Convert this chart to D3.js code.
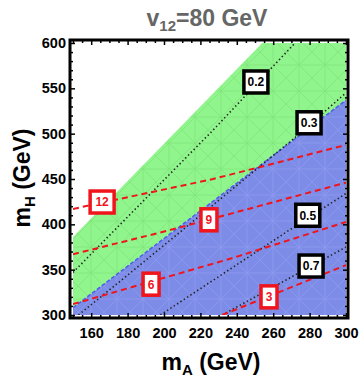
<!DOCTYPE html>
<html>
<head>
<meta charset="utf-8">
<script src="https://cdn.jsdelivr.net/npm/d3@7"></script>
<style>
  body { margin: 0; background: #fff; }
  svg { display: block; font-family: "Liberation Sans", Arial, sans-serif; }
</style>
</head>
<body>
<svg width="360" height="383"></svg>
<script>
// regions (mA, mH)
const greenRegion = [[150, 386], [254, 600], [300, 600], [300, 537], [150, 308]];
const blueRegion = [[150, 308], [300, 537], [300, 300], [150, 300]];
const boundary = [[150, 308], [300, 537]];

// dotted contours
const dotLabels = ["0.2", "0.3", "0.5", "0.7"];
const dotLines = [
    [[150, 347], [227, 504], [272, 600]],
    [[153, 300], [177, 339], [271, 494], [300, 545]],
    [[198, 300], [279, 407], [300, 434]],
    [[232, 300], [281, 354], [300, 375]]
];
const dotLabelPos = [[250.5, 557], [279.7, 512], [279, 410], [280.8, 354]];

// red dashed contours
const redLabels = ["12", "9", "6", "3"];
const redLines = [
    [[150, 417], [227, 450], [300, 487.5]],
    [[150, 367], [202, 393], [300, 446]],
    [[150, 312], [238, 363], [300, 402.6]],
    [[232, 300], [300, 355]]
];
const redLabelPos = [[166, 424.6], [224.7, 405], [192.9, 334], [257.7, 320]];

const xTicks = [160, 180, 200, 220, 240, 260, 280, 300];
const yTicks = [300, 350, 400, 450, 500, 550, 600];

const frame = { left: 70, right: 348, top: 40, bottom: 318 };
const red = '#f0141c';

const x = d3.scaleLinear().domain([150, 300]).range([73, 346]);
const y = d3.scaleLinear().domain([300, 600]).range([315, 43]);

const svg = d3.select('svg');
const defs = svg.append('defs');

defs.append('clipPath').attr('id', 'plotclip')
    .append('rect')
    .attr('x', x(150)).attr('y', y(600))
    .attr('width', x(300) - x(150)).attr('height', y(300) - y(600));

// mesh look
function mesh(id, bg, lineCol) {
    const p = defs.append('pattern').attr('id', id)
        .attr('patternUnits', 'userSpaceOnUse')
        .attr('width', 26).attr('height', 26);
    p.append('rect').attr('width', 26).attr('height', 26).attr('fill', bg);
    p.append('path')
        .attr('d', 'M0,0L26,26M26,0L0,26M13,0V26M0,13H26')
        .attr('stroke', lineCol).attr('stroke-width', 0.8).attr('fill', 'none');
}
mesh('gmesh', '#91f58d', '#7fe47b');
mesh('bmesh', '#7d8ce6', '#8f98f0');

const line = d3.line().x(d => x(d[0])).y(d => y(d[1]));
const area = d3.line().x(d => x(d[0])).y(d => y(d[1])).curve(d3.curveLinearClosed);

const plot = svg.append('g').attr('clip-path', 'url(#plotclip)');

plot.append('path').datum(greenRegion)
    .attr('fill', 'url(#gmesh)').attr('d', area);
plot.append('path').datum(blueRegion)
    .attr('fill', 'url(#bmesh)').attr('d', area);
plot.append('path').datum(boundary)
    .attr('fill', 'none').attr('stroke', '#4d5ee8')
    .attr('stroke-width', 1.5).attr('stroke-dasharray', '4,2')
    .attr('d', line);

plot.selectAll('.dot').data(dotLines).join('path')
    .attr('fill', 'none').attr('stroke', '#222')
    .attr('stroke-width', 1.6).attr('stroke-dasharray', '1.4,2.6')
    .attr('d', line);

plot.selectAll('.red').data(redLines).join('path')
    .attr('fill', 'none').attr('stroke', red)
    .attr('stroke-width', 2).attr('stroke-dasharray', '6,4')
    .attr('d', line);

// labels
function labelBox(pos, text, col) {
    const g = svg.append('g').attr('transform', `translate(${x(pos[0])},${y(pos[1])})`);
    const w = text.length > 1 ? 24 : 16;
    g.append('rect')
        .attr('x', -w / 2).attr('y', -11).attr('width', w).attr('height', 22)
        .attr('fill', '#fff').attr('stroke', col).attr('stroke-width', 3.5);
    g.append('text')
        .attr('text-anchor', 'middle').attr('dy', '0.36em')
        .attr('font-size', 12).attr('font-weight', 'bold').attr('fill', col)
        .text(text);
}
dotLabels.forEach((t, i) => labelBox(dotLabelPos[i], t, '#000'));
redLabels.forEach((t, i) => labelBox(redLabelPos[i], t, red));

// frame + ticks
svg.append('rect')
    .attr('x', frame.left).attr('y', frame.top)
    .attr('width', frame.right - frame.left).attr('height', frame.bottom - frame.top)
    .attr('fill', 'none').attr('stroke', '#000').attr('stroke-width', 3);

const xMinor = d3.range(150, 301, 5).filter(v => !xTicks.includes(v));
const yMinor = d3.range(300, 601, 10).filter(v => !yTicks.includes(v));

function ticks(axisFn, scale, vals, size, tx, ty, withText) {
    const ax = axisFn(scale).tickValues(vals).tickSize(-size).tickSizeOuter(0);
    if (!withText) ax.tickFormat('');
    const g = svg.append('g').attr('transform', `translate(${tx},${ty})`).call(ax);
    g.select('.domain').remove();
    g.selectAll('line').attr('stroke', '#000').attr('stroke-width', 1.5);
    return g;
}
const bx = ticks(d3.axisBottom, x, xTicks, 5, 0, frame.bottom, true);
bx.selectAll('text').attr('font-size', 14.5).attr('font-weight', 'bold')
    .attr('fill', '#000').attr('y', 10).attr('font-family', '"Liberation Sans", Arial, sans-serif');
ticks(d3.axisBottom, x, xMinor, 3, 0, frame.bottom, false);
ticks(d3.axisTop, x, xTicks, 5, 0, frame.top, false);
ticks(d3.axisTop, x, xMinor, 3, 0, frame.top, false);

const ly = ticks(d3.axisLeft, y, yTicks, 5, frame.left, 0, true);
ly.selectAll('text').attr('font-size', 14.5).attr('font-weight', 'bold')
    .attr('fill', '#000').attr('x', -4).attr('font-family', '"Liberation Sans", Arial, sans-serif');
ticks(d3.axisLeft, y, yMinor, 3, frame.left, 0, false);
ticks(d3.axisRight, y, yTicks, 5, frame.right, 0, false);
ticks(d3.axisRight, y, yMinor, 3, frame.right, 0, false);

// title
const title = svg.append('text')
    .attr('x', 207).attr('y', 26).attr('text-anchor', 'middle')
    .attr('font-size', 23).attr('font-weight', 'bold').attr('fill', '#666');
title.append('tspan').text('v');
title.append('tspan').attr('font-size', 15).attr('dy', 5).text('12');
title.append('tspan').attr('dy', -5).text('=80 GeV');

// axis titles
const xt = svg.append('text')
    .attr('x', 211).attr('y', 370).attr('text-anchor', 'middle')
    .attr('font-size', 23).attr('font-weight', 'bold').attr('fill', '#000');
xt.append('tspan').text('m');
xt.append('tspan').attr('font-size', 15).attr('dy', 5).text('A');
xt.append('tspan').attr('dy', -5).text(' (GeV)');

const yt = svg.append('text')
    .attr('transform', 'translate(30,178) rotate(-90)').attr('text-anchor', 'middle')
    .attr('font-size', 23).attr('font-weight', 'bold').attr('fill', '#000');
yt.append('tspan').text('m');
yt.append('tspan').attr('font-size', 15).attr('dy', 5).text('H');
yt.append('tspan').attr('dy', -5).text(' (GeV)');
</script>
</body>
</html>
